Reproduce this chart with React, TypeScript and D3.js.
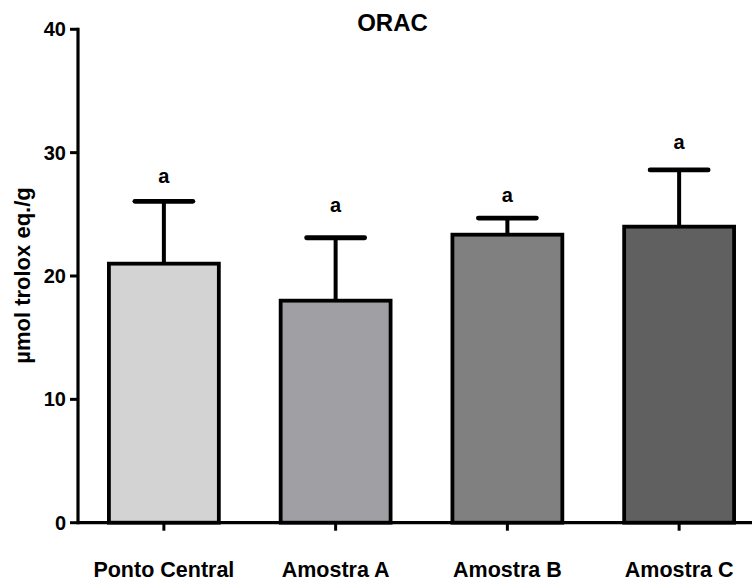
import React from "react";
import * as d3 from "d3";

const categories = ["Ponto Central", "Amostra A", "Amostra B", "Amostra C"];
const means = [21.0, 18.0, 23.35, 24.0];
const errorTops = [26.05, 23.1, 24.7, 28.6];
const letters = ["a", "a", "a", "a"];
const letterLevels = [27.5, 25.2, 26.0, 30.3];
const barColors = ["#d3d3d3", "#a09fa4", "#808080", "#606060"];
const yTicks = [0, 10, 20, 30, 40];
const title = "ORAC";
const yLabel = "µmol trolox eq./g";

const W = 752;
const H = 581;
const FONT = "'Liberation Sans', Arial, Helvetica, sans-serif";

export default function App() {
  const y = d3.scaleLinear().domain([0, 40]).range([522.7, 29.3]);
  const x = d3
    .scaleBand<string>()
    .domain(categories)
    .range([78, 765])
    .paddingInner(0.36)
    .paddingOuter(0.18);
  const axisX = 78;
  const y0 = y(0);
  const capW = 58;

  return (
    <svg
      width={W}
      height={H}
      style={{ position: "absolute", left: 0, top: 0, background: "#fff" }}
      fontFamily={FONT}
    >
      <rect x={0} y={0} width={W} height={H} fill="#fff" />
      {categories.map((c, i) => {
        const bx = x(c)!;
        const bw = x.bandwidth();
        const cx = bx + bw / 2;
        return (
          <g key={c}>
            <line
              x1={cx}
              x2={cx}
              y1={y(means[i])}
              y2={y(errorTops[i])}
              stroke="#000"
              strokeWidth={4}
            />
            <line
              x1={cx - capW / 2}
              x2={cx + capW / 2}
              y1={y(errorTops[i])}
              y2={y(errorTops[i])}
              stroke="#000"
              strokeWidth={4.8}
              strokeLinecap="round"
            />
            <rect
              x={bx}
              y={y(means[i])}
              width={bw}
              height={y0 - y(means[i])}
              fill={barColors[i]}
              stroke="#000"
              strokeWidth={3.8}
            />
            <text
              x={cx}
              y={y(letterLevels[i])}
              textAnchor="middle"
              fontWeight="bold"
              fontSize={20}
              fill="#000"
            >
              {letters[i]}
            </text>
          </g>
        );
      })}
      <line x1={axisX} x2={axisX} y1={y(40) - 1.5} y2={y0 + 1.5} stroke="#000" strokeWidth={3.2} />
      {yTicks.map((t) => (
        <g key={t}>
          <line x1={axisX - 8} x2={axisX} y1={y(t)} y2={y(t)} stroke="#000" strokeWidth={3} />
          <text
            x={66}
            y={y(t) + 7}
            textAnchor="end"
            fontWeight="bold"
            fontSize={20}
            fill="#000"
          >
            {t}
          </text>
        </g>
      ))}
      <line x1={axisX} x2={W} y1={y0} y2={y0} stroke="#000" strokeWidth={3.2} />
      {categories.map((c) => {
        const cx = x(c)! + x.bandwidth() / 2;
        return (
          <g key={"xt" + c}>
            <line x1={cx} x2={cx} y1={y0} y2={y0 + 8} stroke="#000" strokeWidth={3} />
            <text
              x={cx}
              y={576.5}
              textAnchor="middle"
              fontWeight="bold"
              fontSize={21.5}
              fill="#000"
            >
              {c}
            </text>
          </g>
        );
      })}
      <text x={392.5} y={30.5} textAnchor="middle" fontWeight="bold" fontSize={24} fill="#000">
        {title}
      </text>
      <text
        transform={`translate(30, 275.5) rotate(-90)`}
        textAnchor="middle"
        fontWeight="bold"
        fontSize={22}
        fill="#000"
      >
        {yLabel}
      </text>
    </svg>
  );
}
